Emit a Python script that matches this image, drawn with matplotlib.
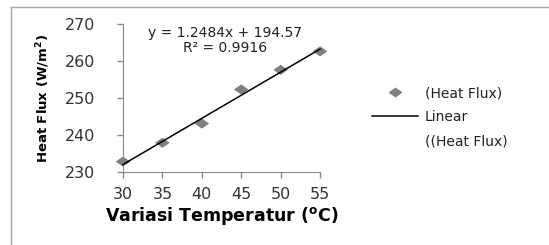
import numpy as np
import matplotlib.pyplot as plt
from matplotlib.lines import Line2D

# data
temperature = [30, 35, 40, 45, 50, 55]
heat_flux = [232.8, 237.9, 243.1, 252.3, 257.6, 262.6]
slope, intercept = 1.2484, 194.57
r_squared = 0.9916

x_ticks = [30, 35, 40, 45, 50, 55]
y_ticks = [230, 240, 250, 260, 270]

plt.rcParams['font.family'] = ['DejaVu Sans']

# wide diamond like the excel marker
diamond = [(-1, 0), (0, 0.7), (1, 0), (0, -0.7), (-1, 0)]

fig = plt.figure(figsize=(5.49, 2.45), dpi=100)
ax = fig.add_axes([0.224, 0.298, 0.359, 0.604])

ax.scatter(temperature, heat_flux, marker=diamond, s=110, color="#808080",
           edgecolors="none", zorder=2, clip_on=False)
fit_x = np.array([temperature[0], temperature[-1]])
ax.plot(fit_x, slope * fit_x + intercept, color="black", lw=1.1, zorder=3,
        clip_on=False)

ax.set_xlim(30, 55)
ax.set_ylim(230, 270)
ax.set_xticks(x_ticks)
ax.set_yticks(y_ticks)
ax.tick_params(axis="both", labelsize=11.5, colors="#8a8a8a", labelcolor="#333333",
               length=4, width=1, direction="out")
ax.tick_params(axis="x", pad=7)
ax.tick_params(axis="y", pad=16)
for side in ["top", "right"]:
    ax.spines[side].set_visible(False)
for side in ["left", "bottom"]:
    ax.spines[side].set_color("#8a8a8a")

ax.set_xlabel("Variasi Temperatur ($^{\\mathregular{o}}$C)", fontsize=12.5,
              fontweight="bold", labelpad=2)
ax.set_ylabel("Heat Flux (W/m$^{\\mathregular{2}}$)", fontsize=9.5,
              fontweight="bold", labelpad=9)

ax.text(0.52, 0.985, f"y = {slope}x + {intercept}\nR² = {r_squared}",
        transform=ax.transAxes, ha="center", va="top", fontsize=10,
        color="#222222", linespacing=1.05)

handles = [
    Line2D([], [], marker=diamond, markersize=8.5, color="#808080", lw=0),
    Line2D([], [], color="black", lw=1.1),
    Line2D([], [], lw=0),
]
labels = ["(Heat Flux)", "Linear", "((Heat Flux)"]
leg = fig.legend(handles, labels, loc="upper left", bbox_to_anchor=(0.655, 0.70),
                 frameon=False, fontsize=10, handlelength=3.3, handletextpad=0.5,
                 labelspacing=0.72)
for t in leg.get_texts():
    t.set_color("#222222")

# outer chart border (left and top edges visible)
fig.add_artist(Line2D([0.02, 0.02], [0.0, 0.971], color="#a6a6a6", lw=1))
fig.add_artist(Line2D([0.02, 1.0], [0.971, 0.971], color="#a6a6a6", lw=1))

fig.savefig("out.png", dpi=100)
